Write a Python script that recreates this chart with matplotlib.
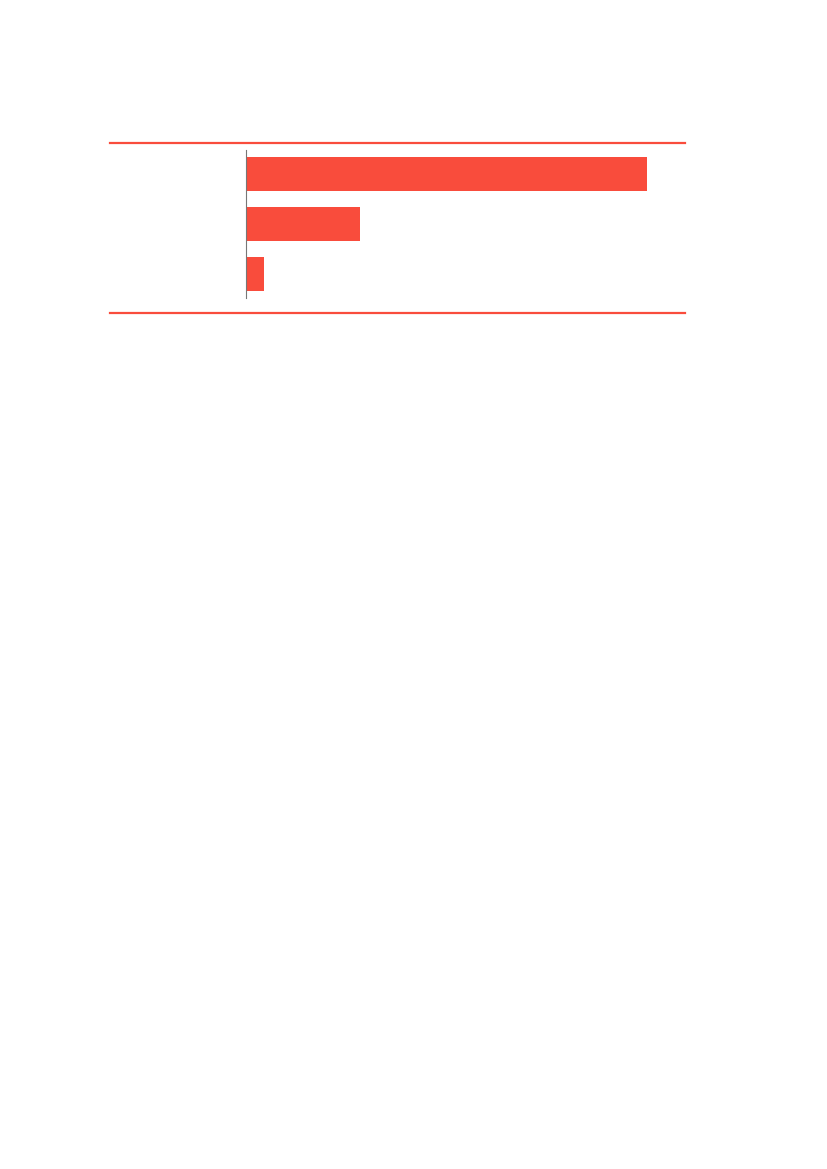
import matplotlib
matplotlib.use("Agg")
import matplotlib.pyplot as plt
from matplotlib.lines import Line2D

# Data (no labels are shown in the reference)
categories = ["A", "B", "C"]
values = [91.3, 26.0, 4.1]

W, H = 827, 1169
fig = plt.figure(figsize=(W / 100, H / 100), dpi=100)

# axes placed in pixel coordinates of the reference
left, right = 246, 685
top, bottom = 150, 298
ax = fig.add_axes([left / W, 1 - bottom / H, (right - left) / W, (bottom - top) / H])

red = "#f94c3c"
ax.barh(range(len(categories)), values, height=0.68, color=red)
ax.set_xlim(0, 100)
ax.set_ylim(len(categories) - 0.52, -0.48)

for s in ["top", "right", "bottom"]:
    ax.spines[s].set_visible(False)
ax.spines["left"].set_color("#777777")
ax.spines["left"].set_linewidth(0.8)
ax.set_xticks([])
ax.set_yticks([])

# red rules above and below the chart
for y in (143, 313):
    fig.add_artist(Line2D([110 / W, 685 / W], [1 - y / H, 1 - y / H],
                          color=red, linewidth=1.6, transform=fig.transFigure))

fig.savefig("out.png", dpi=100)
